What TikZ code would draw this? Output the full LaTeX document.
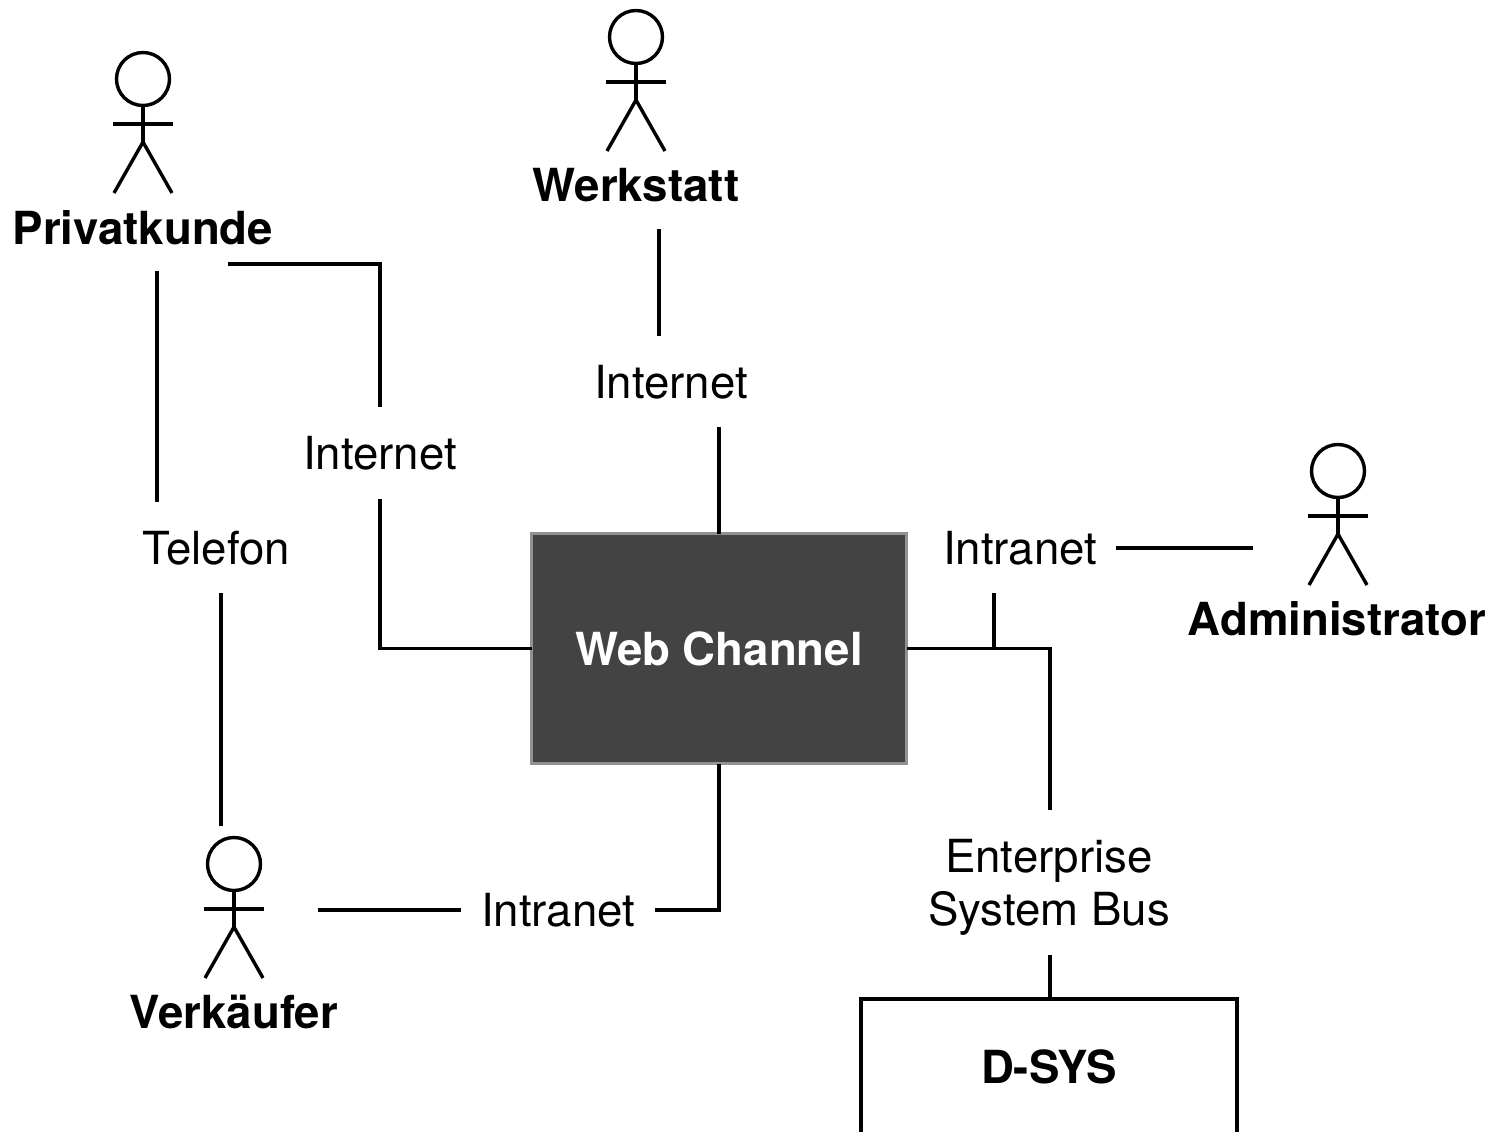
\documentclass[tikz,border=0pt]{standalone}
\usepackage{fontspec}
\setmainfont{TeX Gyre Heros}
\definecolor{webfill}{RGB}{67,67,67}
\definecolor{webedge}{RGB}{145,145,145}
\tikzset{
  conn/.style={line width=3.4pt,black},
  limb/.style={line width=3.4pt,black},
  lab/.style={inner sep=0pt,font=\fontsize{45.6}{53}\selectfont,align=center,anchor=center},
  blab/.style={lab,font=\fontsize{45.6}{53}\selectfont\bfseries},
  pics/actor/.style={code={
    \draw[limb] (0,-42) circle (26.5);
    \draw[limb] (0,-15.5) -- (0,21);
    \draw[limb] (-30,3) -- (30,3);
    \draw[limb] (-29,72) -- (0,21) -- (29,72);
  }}
}
\begin{document}
\begin{tikzpicture}[x=1pt,y=-1pt]
\useasboundingbox (0,0) rectangle (1491,1132);
% main boxes
\node[draw=webedge,fill=webfill,line width=3.4pt,outer sep=0pt,minimum width=375pt,minimum height=230pt,inner sep=0pt,text=white,font=\fontsize{45.6}{53}\selectfont\bfseries] (web) at (719,648.5) {Web Channel};
% D-SYS box runs off the bottom edge
\coordinate (dsTL) at (861,999);
\coordinate (dsTR) at (1237,999);
\coordinate (dsBL) at (861,1132);
\coordinate (dsBR) at (1237,1132);
\coordinate (dsTop) at (1050,999);
\draw[conn] (dsBL) -- (dsTL) -- (dsTR) -- (dsBR);
\node[blab] (dsys) at (1049,1067) {D-SYS};
% actors
\pic at (143,121) {actor};
\pic at (636,79) {actor};
\pic at (1338,513) {actor};
\pic at (234,906) {actor};
\node[blab] (priv) at (143,228) {Privatkunde};
\node[blab] (werk) at (636,185) {Werkstatt};
\node[blab] (admin) at (1337,619) {Administrator};
\node[blab] (verk) at (234,1012) {Verkäufer};
% labels
\node[lab] (inet1) at (380,453) {Internet};
\node[lab] (inet2) at (671,382) {Internet};
\node[lab] (tel) at (216.5,548) {Telefon};
\node[lab] (intra1) at (1020,548) {Intranet};
\node[lab] (intra2) at (558,910) {Intranet};
\node[lab] (esb) at (1049,887) {Enterprise\\System Bus};
% free ends of connectors
\coordinate (a1) at (228,264);
\coordinate (a2) at (380,407);
\coordinate (a3) at (380,499);
\coordinate (b1) at (157,271);
\coordinate (b2) at (157,502);
\coordinate (b3) at (221,593);
\coordinate (b4) at (221,826);
\coordinate (c1) at (659,229);
\coordinate (c2) at (659,336);
\coordinate (c3) at (719,427);
\coordinate (d1) at (1116,548);
\coordinate (d2) at (1253,548);
\coordinate (e1) at (994,593);
\coordinate (f1) at (1050,810);
\coordinate (f2) at (1050,955);
\coordinate (g1) at (318,910);
\coordinate (g2) at (461,910);
\coordinate (g3) at (655,910);
% connectors
\draw[conn] (a1) -- (a2 |- a1) -- (a2);
\draw[conn] (a3) -- (a3 |- web.west) -- (web.west);
\draw[conn] (b1) -- (b2);
\draw[conn] (b3) -- (b4);
\draw[conn] (c1) -- (c2);
\draw[conn] (c3) -- (web.north);
\draw[conn] (d1) -- (d2);
\draw[conn] (web.east) -- (f1 |- web.east) -- (f1);
\draw[conn] (e1) -- (e1 |- web.east);
\draw[conn] (f2) -- (dsTop);
\draw[conn] (g1) -- (g2);
\draw[conn] (g3) -- (web.south |- g3) -- (web.south);
\end{tikzpicture}
\end{document}
